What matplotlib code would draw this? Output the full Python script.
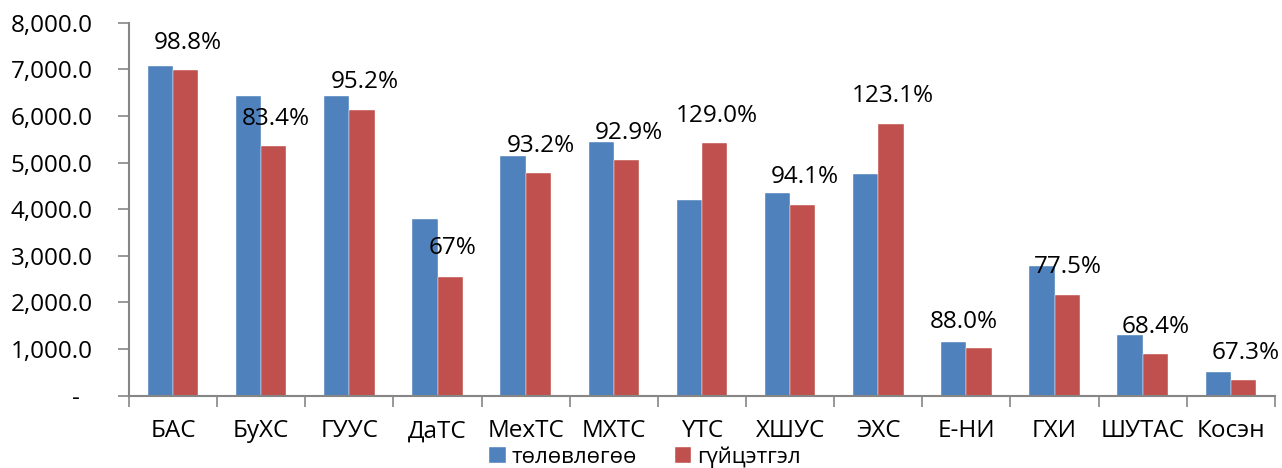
import matplotlib
matplotlib.use("Agg")
import matplotlib.pyplot as plt
import numpy as np
from matplotlib.ticker import FixedLocator, FuncFormatter

plt.rcParams["font.family"] = ["Open Sans", "DejaVu Sans"]

categories = ["БАС", "БуХС", "ГУУС", "ДаТС", "МехТС", "МХТС", "YТС",
              "ХШУС", "ЭХС", "Е-НИ", "ГХИ", "ШУТАС", "Косэн"]
plan = [7065, 6425, 6425, 3785, 5144, 5444, 4200, 4343, 4751, 1152, 2783, 1296, 509]
actual = [6980, 5358, 6124, 2541, 4785, 5058, 5416, 4086, 5837, 1017, 2155, 895, 343]
pct_labels = ["98.8%", "83.4%", "95.2%", "67%", "93.2%", "92.9%", "129.0%",
              "94.1%", "123.1%", "88.0%", "77.5%", "68.4%", "67.3%"]

# where each percentage label sits (data units)
label_y = [7560, 5940, 6720, 3160, 5360, 5640, 5990, 4680, 6430, 1570, 2750, 1480, 920]
label_dx = [0.17, 0.17, 0.17, 0.17, 0.17, 0.17, 0.17, 0.17, 0.17, -0.03, 0.15, 0.15, 0.17]

BLUE = "#4F81BD"
RED = "#C0504D"
AXIS = "#868686"
FS = 17.5

fig = plt.figure(figsize=(12.82, 4.68), dpi=100)
ax = fig.add_axes([0.1006, 0.1545, 0.8939, 0.797])

x = np.arange(len(categories))
w = 0.287
ax.bar(x - w / 2, plan, w, color=BLUE, label="төлөвлөгөө", edgecolor="white", linewidth=0.3)
ax.bar(x + w / 2, actual, w, color=RED, label="гүйцэтгэл", edgecolor="white", linewidth=0.3)

for xi, txt, ly, dx in zip(x, pct_labels, label_y, label_dx):
    ax.text(xi + dx, ly, txt, ha="center", va="center", fontsize=FS, color="black")

ax.set_xlim(-0.5, len(categories) - 0.5)
ax.set_ylim(0, 8000)

ax.set_yticks(np.arange(0, 8001, 1000))
ax.yaxis.set_major_formatter(FuncFormatter(lambda v, p: "-  " if v == 0 else f"{v:,.1f}"))
ax.tick_params(axis="y", length=8, width=1.2, color=AXIS, pad=18, labelsize=FS)

ax.set_xticks(x)
ax.set_xticklabels(categories)
ax.xaxis.set_minor_locator(FixedLocator(np.arange(-0.5, len(categories), 1)))
ax.tick_params(axis="x", which="major", length=0, pad=17, labelsize=FS)
ax.tick_params(axis="x", which="minor", length=8, width=1.2, color=AXIS)

for side in ("top", "right"):
    ax.spines[side].set_visible(False)
for side in ("left", "bottom"):
    ax.spines[side].set_color(AXIS)
    ax.spines[side].set_linewidth(1.5)

fig.legend(loc="center", bbox_to_anchor=(0.503, 0.024), ncol=2, frameon=False,
           fontsize=16, handlelength=0.75, handleheight=0.75, handletextpad=0.25,
           columnspacing=1.7, borderpad=0)

fig.savefig("out.png", dpi=100)
